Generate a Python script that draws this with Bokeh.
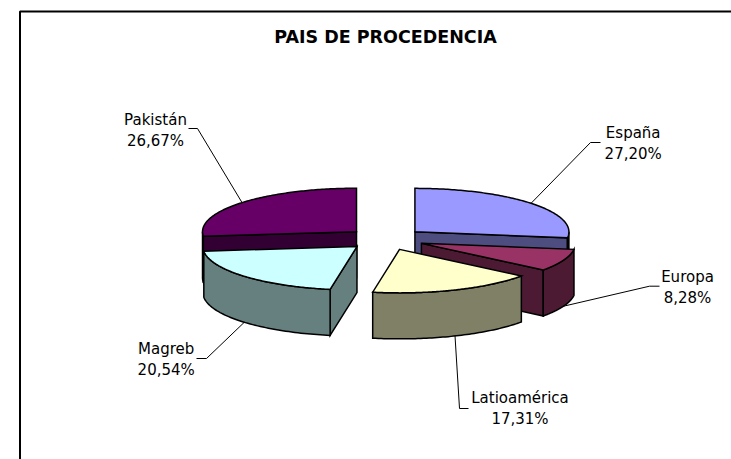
import numpy as np
from bokeh.plotting import figure
from bokeh.models import Range1d
from bokeh.core.properties import value
from bokeh.embed import file_html
from bokeh.resources import INLINE

title = "PAIS DE PROCEDENCIA"
categories = ["España", "Europa", "Latioamérica", "Magreb", "Pakistán"]
percent = [27.20, 8.28, 17.31, 20.54, 26.67]
percent_labels = ["27,20%", "8,28%", "17,31%", "20,54%", "26,67%"]
top_colors = ["#9999FF", "#993366", "#FFFFCC", "#CCFFFF", "#660066"]
side_colors = ["#4D4D80", "#4D1A33", "#808066", "#668080", "#330033"]
paint_order = [4, 0, 1, 3, 2]

# projection of the pie (page pixels)
CX, CY = 385.0, 238.6
A, B, DEPTH = 154.0, 43.5, 46.0
EXPLODE = 39.0

# label layout: text centre, elbow and end of each leader line
label_xy = [(632.7, 132.5), (687, 276.5), (519.5, 397.5), (165.7, 348.5), (155, 119.5)]
elbows = [((590, 142), (600, 142)), ((649, 285.7), (659, 285.7)),
          ((459, 408), (468, 408)), ((206, 358), (196, 358)), ((197, 128), (188, 128))]
LINE_GAP = 20.5

p = figure(width=731, height=459, output_backend="svg", toolbar_location=None,
           x_range=Range1d(0, 731), y_range=Range1d(459, 0),
           min_border=0, outline_line_color=None, background_fill_color="white")
p.xaxis.visible = False
p.yaxis.visible = False
p.grid.visible = False

# chart area frame (right and bottom fall outside the picture)
p.line([19.5, 19.5, 731], [459, 11, 11], line_color="black", line_width=2)

total = sum(percent)
edges = np.concatenate([[0.0], np.cumsum(percent)]) * 2 * np.pi / total


def patch(xs, ys, color):
    p.patch(list(xs), list(ys), fill_color=color, line_color="black",
            line_width=1.5, line_join="miter")


for i in paint_order:
    t0, t1 = edges[i], edges[i + 1]
    mid = (t0 + t1) / 2
    ax = CX + EXPLODE * np.sin(mid)
    ay = CY - EXPLODE * np.cos(mid) * B / A

    def rim(t):
        return ax + A * np.sin(t), ay - B * np.cos(t)

    # visible radial walls
    for t, normal in ((t0, t0 - np.pi / 2), (t1, t1 + np.pi / 2)):
        if np.cos(normal) < 0:
            ex, ey = rim(t)
            patch([ax, ex, ex, ax], [ay, ey, ey + DEPTH, ay + DEPTH], side_colors[i])

    # visible outer wall (front half of the ellipse)
    lo, hi = max(t0, np.pi / 2), min(t1, 3 * np.pi / 2)
    if hi > lo:
        ts = np.linspace(lo, hi, 60)
        rx, ry = rim(ts)
        patch(np.r_[rx, rx[::-1]], np.r_[ry, ry[::-1] + DEPTH], side_colors[i])

    # top face
    ts = np.linspace(t0, t1, 120)
    rx, ry = rim(ts)
    patch(np.r_[ax, rx], np.r_[ay, ry], top_colors[i])

    # leader line from the outer edge at the slice's middle
    sx, sy = rim(mid)
    if np.cos(mid) < 0:
        sy += DEPTH
    e1, e2 = elbows[i]
    p.line([sx, e1[0], e2[0]], [sy, e1[1], e2[1]], line_color="black", line_width=1)

    # two-line label
    lx, ly = label_xy[i]
    for txt, yy in ((categories[i], ly), (percent_labels[i], ly + LINE_GAP)):
        p.text([lx], [yy], text=[txt], text_font=value("DejaVu Sans"), text_font_size="15px",
               text_align="center", text_baseline="middle", text_color="black")

p.text([385], [36], text=[title], text_font=value("DejaVu Sans"), text_font_size="17.5px",
       text_font_style="bold", text_align="center", text_baseline="middle", text_color="black")

open("out.html", "w").write(file_html(p, INLINE))
